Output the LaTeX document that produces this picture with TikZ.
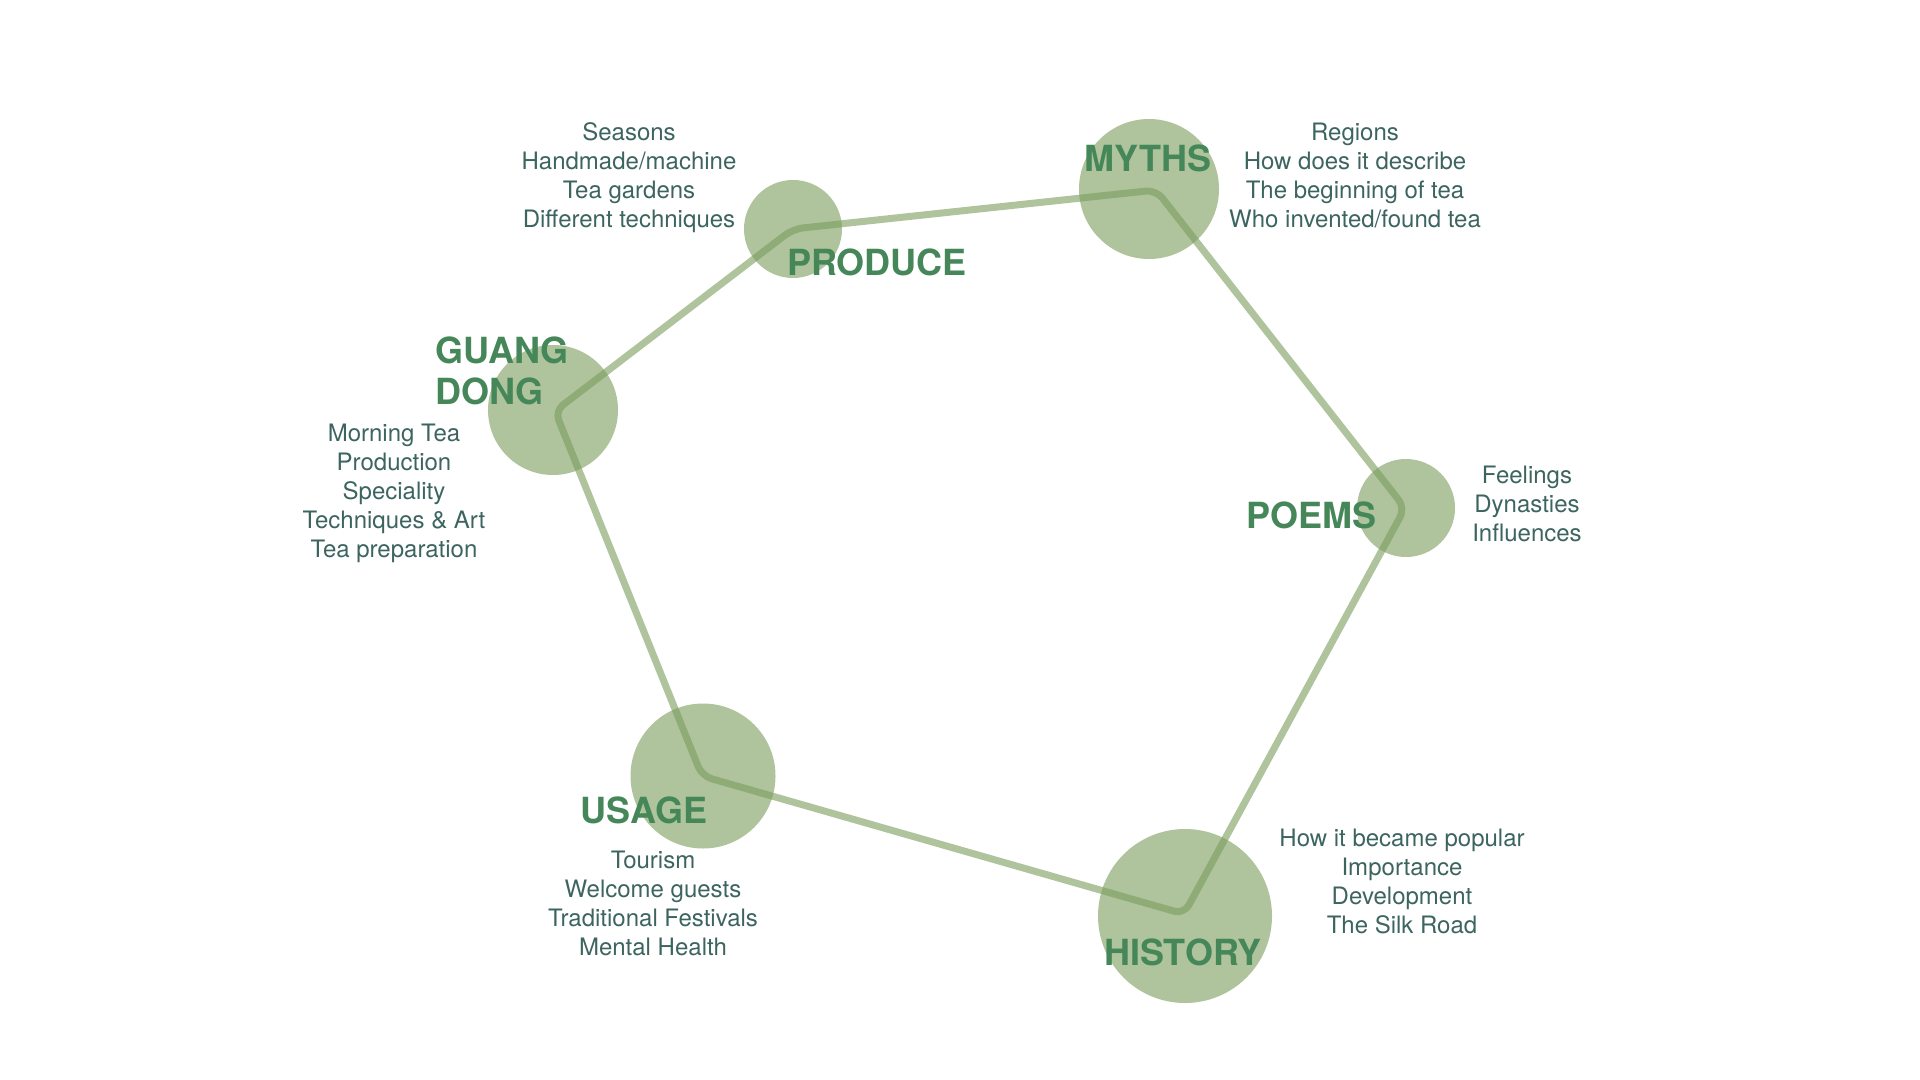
\documentclass[tikz,border=0pt]{standalone}
\usepackage{fontspec}
\setmainfont{TeX Gyre Heros}
\definecolor{sage}{RGB}{122,157,93}
\definecolor{titlegreen}{RGB}{70,135,90}
\definecolor{bodyteal}{RGB}{61,101,96}
\tikzset{
  topic/.style={circle, fill=sage, fill opacity=0.6, draw=none, inner sep=0pt},
  ring/.style={draw=sage, draw opacity=0.6, line width=3.5pt, rounded corners=5pt, line join=round},
  title/.style={text=titlegreen, font=\fontsize{18}{19.5}\selectfont\bfseries, inner sep=0pt},
  body/.style={text=bodyteal, font=\fontsize{12}{14.5}\selectfont, align=center, inner sep=0pt}
}
\begin{document}
\begin{tikzpicture}[x=0.5pt,y=-0.5pt]
\useasboundingbox (0,0) rectangle (1920,1080);
\fill[white] (0,0) rectangle (1920,1080);
% circles
\node[topic, minimum size=49pt] (produce) at (793,229) {};
\node[topic, minimum size=70pt] (myths) at (1149,189) {};
\node[topic, minimum size=65pt] (guangdong) at (553,410) {};
\node[topic, minimum size=49pt] (poems) at (1406,508) {};
\node[topic, minimum size=72.5pt] (usage) at (703,776) {};
\node[topic, minimum size=87pt] (history) at (1185,916) {};
% ring vertices
\coordinate (vproduce) at (793,229);
\coordinate (vmyths) at (1156,190);
\coordinate (vpoems) at (1405,508);
\coordinate (vhistory) at (1184,914);
\coordinate (vusage) at (702,776);
\coordinate (vguang) at (555,411);
% ring connector
\draw[ring] (vproduce) -- (vmyths) -- (vpoems) -- (vhistory) -- (vusage) -- (vguang) -- cycle;
% titles
\node[title] (tproduce) at (877,262) {PRODUCE};
\node[title] (tmyths) at (1148,158) {MYTHS};
\node[title, anchor=west, align=left] (tguang) at (435,371) {GUANG\\[1pt]DONG};
\node[title] (tpoems) at (1311,515) {POEMS};
\node[title] (tusage) at (644,810) {USAGE};
\node[title] (thistory) at (1183,952) {HISTORY};
% bodies
\node[body] (bproduce) at (629,178) {Seasons\\Handmade/machine\\Tea gardens\\Different techniques};
\node[body] (bmyths) at (1355,175) {Regions\\How does it describe\\The beginning of tea\\Who invented/found tea};
\node[body] (bguang) at (394,493) {Morning Tea\\Production\\Speciality\\Techniques \& Art\\Tea preparation};
\node[body] (bpoems) at (1527,504) {Feelings\\Dynasties\\Influences};
\node[body] (busage) at (653,903) {Tourism\\Welcome guests\\Traditional Festivals\\Mental Health};
\node[body] (bhistory) at (1402,881) {How it became popular\\Importance\\Development\\The Silk Road};
\end{tikzpicture}
\end{document}
